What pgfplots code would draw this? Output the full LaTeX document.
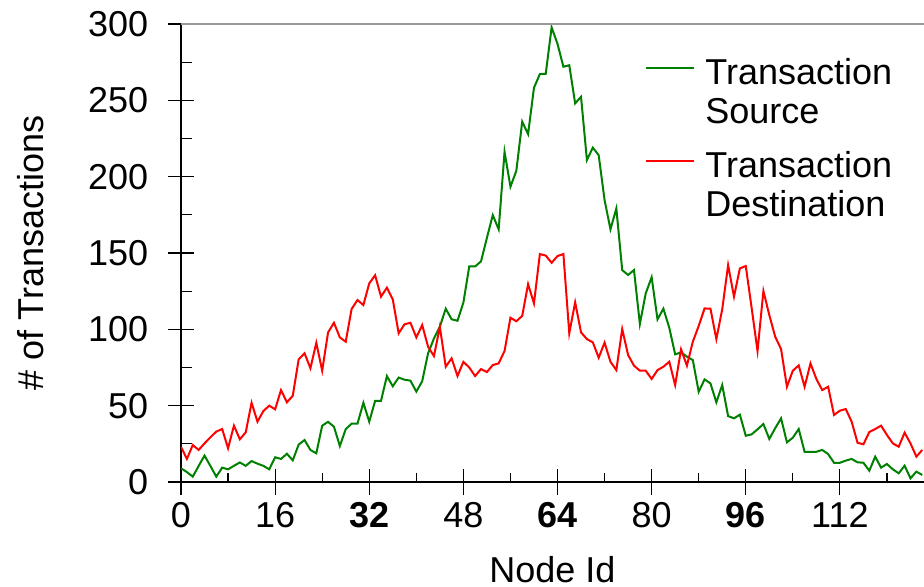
\documentclass[border=0pt]{standalone}
\usepackage{fontspec}
\setmainfont{Liberation Sans}
\usepackage{pgfplots}
\pgfplotsset{compat=1.18}
\definecolor{srcgreen}{RGB}{0,128,0}
\definecolor{dstred}{RGB}{255,0,0}
\newcommand{\bigfont}{\fontsize{18}{19.5}\selectfont}

\pgfplotstableread{
x src dst
0 9.0 23.1
1 6.5 15.1
2 3.5 24.2
3 10.5 21
4 17.3 25.3
5 10.5 29.3
6 3.5 33
7 9.4 34.7
8 8.3 22.1
9 10.6 36.9
10 12.8 28
11 10.6 32.5
12 13.7 51.9
13 12 39.5
14 10.6 46.5
15 8.3 50
16 16.2 47.6
17 15.1 60.2
18 18.5 52.2
19 14.2 56.5
20 24.5 80.3
21 27.5 84.3
22 21 74.5
23 18.8 91.2
24 36.9 72.9
25 39.4 98
26 36.2 104.3
27 23.6 94.7
28 34.6 91.9
29 38.2 113.3
30 38.2 119.2
31 51.9 115.9
32 39.5 130.1
33 53.2 135.4
34 53.2 121.4
35 69.4 127.3
36 62.7 119.6
37 68.4 97.4
38 67 103.3
39 66.4 104.3
40 59.2 94.7
41 66 102.8
42 84.3 88.6
43 94 82.5
44 101.7 101.7
45 113.5 75.5
46 106.6 81
47 105.6 69.4
48 117.5 78.7
49 141.2 75
50 141.2 69.4
51 144.5 74
52 160 72
53 174.8 76.6
54 165.5 77.7
55 216.3 85.8
56 193.4 107.6
57 203.8 105.3
58 236 108.8
59 227.9 129.6
60 258.2 117
61 267.2 149.3
62 267.4 148.3
63 297.8 143.6
64 287 148
65 272 149.3
66 273 97.4
67 248 117.7
68 252.3 98
69 210.9 93.6
70 219 91.5
71 214.1 81.4
72 184.7 91.3
73 165.5 78.8
74 179.2 73.3
75 138.8 100.2
76 135.6 83.2
77 138.8 76.2
78 103.5 72.9
79 123.6 72.9
80 134.1 67.5
81 106.5 73.3
82 113.5 75.5
83 101 78.8
84 83.6 63.5
85 84.9 86.9
86 82.1 76.2
87 79.9 91.9
88 59.1 102.2
89 67.2 113.7
90 64.6 113.5
91 52.2 93.6
92 63.5 113.1
93 43.2 142.1
94 41.7 121.4
95 44.1 139.9
96 30.3 141.5
97 31.2 114
98 34.5 85.8
99 38 125.1
100 28.2 109.4
101 35.2 95.2
102 41.7 87.1
103 26 62.4
104 29 72.9
105 34.7 76.4
106 19.8 62.4
107 19.8 77.7
108 19.8 67.5
109 21 60.2
110 18.3 62.4
111 12.6 43.9
112 12.6 46.7
113 14 47.8
114 15.1 39.5
115 12.9 25.7
116 12.6 24.7
117 7.4 32.7
118 16.6 34.7
119 9.4 36.9
120 11.8 30.8
121 8.3 25.3
122 5.7 23.1
123 10.7 32.3
124 2.4 25.3
125 6.8 16.6
126 4.6 21
}\nodedata

\begin{document}
\begin{tikzpicture}
\begin{axis}[
  at={(0,0)}, anchor=south west,
  scale only axis,
  width=371.5pt, height=229pt,
  xmin=0, xmax=126.3,
  ymin=0, ymax=300,
  axis x line*=bottom, axis y line*=left,
  axis line style={black, line width=0.8pt},
  tick align=center,
  major tick length=12.8pt,
  tick style={black, line width=0.6pt},
  xtick={0,16,...,112},
  xticklabels={0,16,\textbf{32},48,\textbf{64},80,\textbf{96},112},
  ytick={0,50,...,300},
  yticklabels={0,50,100,150,200,250,300},
  yticklabel style={xshift=-6.5pt},
  extra x ticks={8,24,...,120},
  extra x tick labels={},
  extra x tick style={tick align=inside, major tick length=4.7pt},
  extra y ticks={25,75,...,275},
  extra y tick labels={},
  extra y tick style={tick align=inside, major tick length=5.5pt},
  tick label style={font=\bigfont},
  every axis x label/.style={at={([yshift=-50pt]axis description cs:0.5,0)}, anchor=base, font=\bigfont},
  every axis y label/.style={at={([xshift=-68.5pt]axis description cs:0,0.5)}, rotate=90, anchor=base, font=\bigfont},
  xlabel={Node Id},
  ylabel={\# of Transactions},
  legend style={at={(axis description cs:0.6245,0.9285)}, anchor=north west,
    draw=none, fill=none, inner sep=0pt, font=\bigfont, row sep=12pt,
    nodes={inner sep=0pt}},
  legend cell align=left,
  legend image code/.code={\draw[#1] (0pt,11.85pt) -- (24pt,11.85pt); \path (29pt,11.85pt);},
]
\addplot[srcgreen, line width=1pt] table[x=x, y=src] {\nodedata};
\addlegendentry{{\begin{tabular}[b]{@{}l@{}}Transaction\\Source\end{tabular}}}
\addplot[dstred, line width=1pt] table[x=x, y=dst] {\nodedata};
\addlegendentry{{\begin{tabular}[b]{@{}l@{}}Transaction\\Destination\end{tabular}}}
\draw[black!40, line width=0.6pt] (rel axis cs:0,1) -- (rel axis cs:1,1);
\end{axis}
\pgfresetboundingbox
\path[use as bounding box] (-90.5pt,-52.5pt) rectangle (371.5pt,241pt);
\end{tikzpicture}
\end{document}
